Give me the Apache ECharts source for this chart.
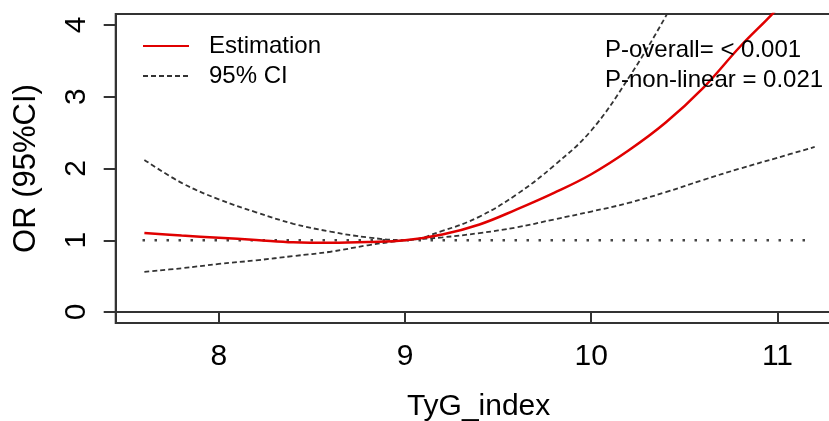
<!DOCTYPE html>
<html>
<head>
<meta charset="utf-8">
<script src="https://cdn.jsdelivr.net/npm/echarts@6/dist/echarts.min.js"></script>
<style>
html,body{margin:0;padding:0;background:#fff;}
#chart{width:829px;height:421px;}
</style>
</head>
<body>
<div id="chart"></div>
<script>
// ---- data ----
const xValues   = [7.6, 7.8, 8.0, 8.2, 8.4, 8.6, 8.8, 9.0, 9.2, 9.4, 9.6, 9.8, 10.0, 10.2, 10.4, 10.6, 10.8, 11.0, 11.2];
const estimate  = [1.10, 1.065, 1.035, 1.005, 0.972, 0.965, 0.975, 1.0, 1.08, 1.22, 1.43, 1.66, 1.92, 2.25, 2.64, 3.12, 3.70, 4.23, 4.85];
const upperCI   = [2.12, 1.80, 1.57, 1.39, 1.23, 1.12, 1.04, 1.0, 1.13, 1.33, 1.64, 2.04, 2.53, 3.26, 4.12, 5.1, null, null, null];
const lowerCI   = [0.56, 0.61, 0.67, 0.72, 0.78, 0.84, 0.93, 1.0, 1.04, 1.10, 1.18, 1.29, 1.40, 1.52, 1.67, 1.84, 2.00, 2.15, 2.30];
const refX      = [7.59, 11.18];
const refY      = 1;
const xTicks    = [8, 9, 10, 11];
const yTicks    = [0, 1, 2, 3, 4];
const pTexts    = ['P-overall= < 0.001', 'P-non-linear = 0.021'];
const xName     = 'TyG_index';
const yName     = 'OR (95%CI)';

const pair = (xs, ys) => xs.map((x, i) => ys[i] == null ? null : [x, ys[i]]).filter(p => p);
const FONT = "'Liberation Sans', Arial, sans-serif";
const AX = '#333';

const chart = echarts.init(document.getElementById('chart'), null, {renderer: 'canvas'});
chart.setOption({
  animation: false,
  backgroundColor: '#fff',
  textStyle: {fontFamily: FONT},
  grid: {left: 115.7, top: 14, right: -12.5, bottom: 98, show: true, borderColor: AX, borderWidth: 2,
         containLabel: false, outerBoundsMode: 'none'},
  legend: {
    orient: 'vertical', left: 137, top: 28, itemWidth: 46, itemHeight: 14, itemGap: 4,
    data: ['Estimation', '95% CI'],
    itemStyle: {opacity: 0, borderWidth: 0},
    textStyle: {fontSize: 24, color: '#000', fontFamily: FONT, lineHeight: 26, padding: [0, 0, 0, 15]}
  },
  xAxis: {
    type: 'value', min: 7.446, max: 11.344,
    name: xName, nameLocation: 'middle', nameGap: 69,
    nameTextStyle: {fontSize: 30, color: '#000', fontFamily: FONT},
    axisLine: {show: true, lineStyle: {color: AX, width: 2}},
    axisTick: {show: true, inside: false, length: 12, customValues: xTicks, lineStyle: {color: AX, width: 2}},
    axisLabel: {show: true, customValues: xTicks, fontSize: 30, color: '#000', margin: 19, fontFamily: FONT},
    splitLine: {show: false}
  },
  yAxis: {
    type: 'value', min: -0.153, max: 4.153,
    name: yName, nameLocation: 'middle', nameGap: 74,
    nameTextStyle: {fontSize: 31, color: '#000', fontFamily: FONT},
    axisLine: {show: true, lineStyle: {color: AX, width: 2}},
    axisTick: {show: true, inside: false, length: 12, customValues: yTicks, lineStyle: {color: AX, width: 2}},
    axisLabel: {show: true, customValues: yTicks, fontSize: 30, color: '#000', margin: 24, rotate: 90, fontFamily: FONT},
    splitLine: {show: false}
  },
  series: [
    {
      name: 'Reference', type: 'line', data: pair(refX, [refY, refY]), symbol: 'none', silent: true,
      lineStyle: {color: '#444', width: 2.5, type: [2.5, 9.5]}, clip: true, z: 1
    },
    {
      name: '95% CI', type: 'line', data: pair(xValues, upperCI), symbol: 'none', smooth: 0.4,
      lineStyle: {color: '#333', width: 1.8, type: [5, 3]}, itemStyle: {color: '#333'}, clip: true, z: 2
    },
    {
      name: '95% CI', type: 'line', data: pair(xValues, lowerCI), symbol: 'none', smooth: 0.4,
      lineStyle: {color: '#333', width: 1.8, type: [5, 3]}, itemStyle: {color: '#333'}, clip: true, z: 2
    },
    {
      name: 'Estimation', type: 'line', data: pair(xValues, estimate), symbol: 'none', smooth: 0.4,
      lineStyle: {color: '#e00000', width: 2.5}, itemStyle: {color: '#e00000'}, clip: true, z: 3
    }
  ],
  graphic: [
    {type: 'text', left: 605, top: 38, style: {text: pTexts[0], font: "24px 'Liberation Sans', Arial, sans-serif", fill: '#000'}, z: 10},
    {type: 'text', left: 605, top: 68, style: {text: pTexts[1], font: "24px 'Liberation Sans', Arial, sans-serif", fill: '#000'}, z: 10}
  ]
});
</script>
</body>
</html>
